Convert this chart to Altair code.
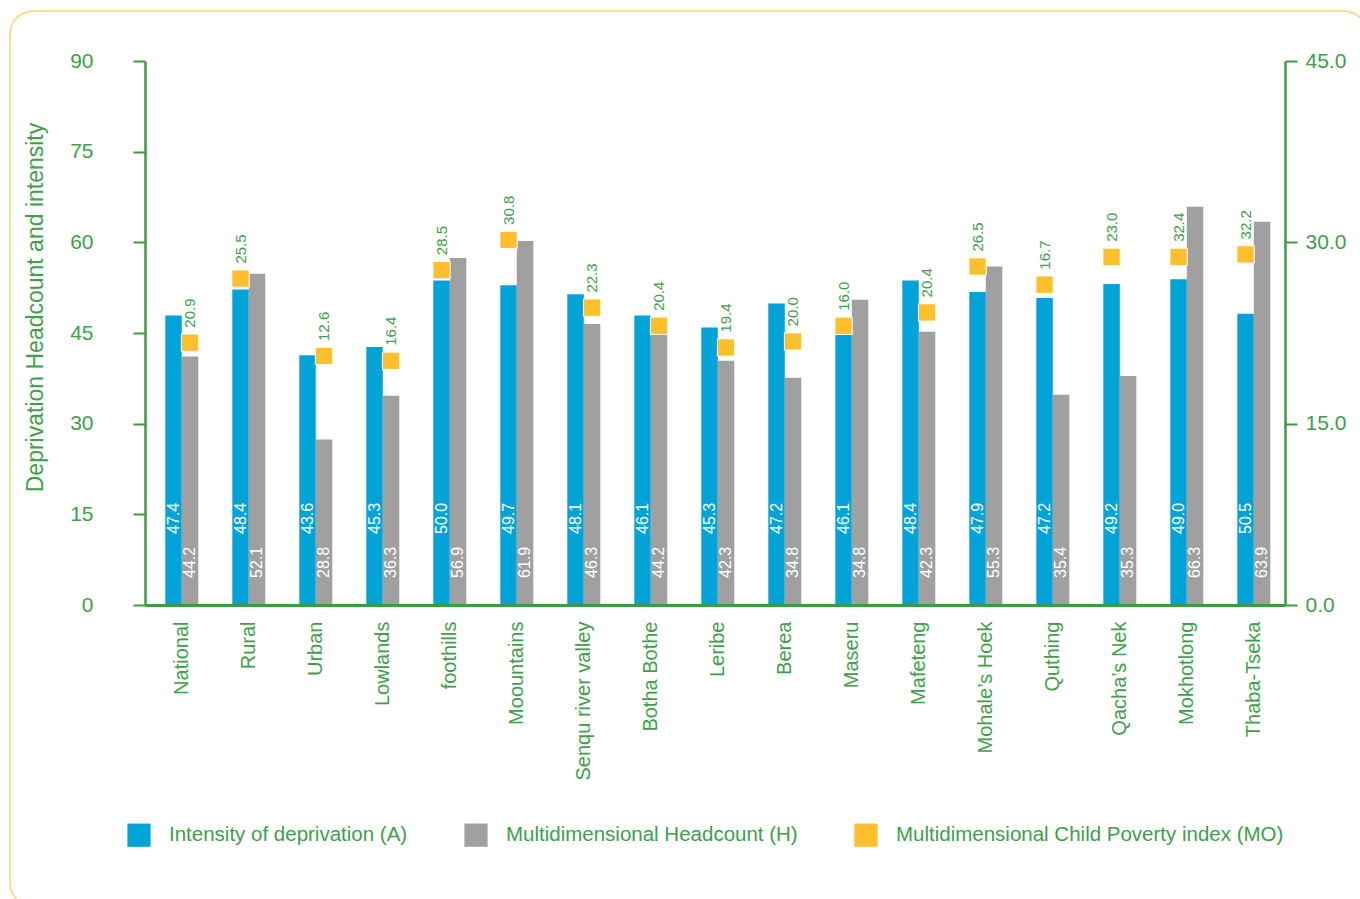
import altair as alt
import pandas as pd

categories = ["National", "Rural", "Urban", "Lowlands", "foothills", "Moountains",
              "Senqu river valley", "Botha Bothe", "Leribe", "Berea", "Maseru",
              "Mafeteng", "Mohale’s Hoek", "Quthing", "Qacha’s Nek", "Mokhotlong",
              "Thaba-Tseka"]

# bar heights as drawn in the picture (left axis)
intensity_bar = [47.9, 52.2, 41.3, 42.7, 53.7, 52.9, 51.4, 47.9, 45.9, 49.9, 44.8,
                 53.7, 51.8, 50.8, 53.1, 53.9, 48.2]
headcount_bar = [41.1, 54.8, 27.4, 34.6, 57.4, 60.2, 46.5, 44.7, 40.4, 37.6, 50.5,
                 45.2, 56.0, 34.8, 37.9, 65.9, 63.4]
# MO marker positions as drawn (right axis)
mo_marker = [21.7, 27.0, 20.6, 20.2, 27.7, 30.2, 24.6, 23.1, 21.3, 21.8, 23.1,
             24.2, 28.0, 26.5, 28.8, 28.8, 29.0]

# printed values
intensity_label = [47.4, 48.4, 43.6, 45.3, 50.0, 49.7, 48.1, 46.1, 45.3, 47.2, 46.1,
                   48.4, 47.9, 47.2, 49.2, 49.0, 50.5]
headcount_label = [44.2, 52.1, 28.8, 36.3, 56.9, 61.9, 46.3, 44.2, 42.3, 34.8, 34.8,
                   42.3, 55.3, 35.4, 35.3, 66.3, 63.9]
mo_label = [20.9, 25.5, 12.6, 16.4, 28.5, 30.8, 22.3, 20.4, 19.4, 20.0, 16.0,
            20.4, 26.5, 16.7, 23.0, 32.4, 32.2]
# which bar slot the MO marker sits above
mo_slot = ["H", "A", "H", "H", "A", "A", "H", "H", "H", "H", "A",
           "H", "A", "A", "A", "A", "A"]

series_names = ["Intensity of deprivation (A)", "Multidimensional Headcount (H)",
                "Multidimensional Child Poverty index (MO)"]
series_colors = ["#02A4D8", "#A0A0A0", "#FDBF2B"]

GREEN = "#3BA247"
AXIS_GREEN = "#3A9B42"

bar_rows = []
for i, c in enumerate(categories):
    bar_rows.append({"cat": c, "slot": "A", "series": series_names[0],
                     "v": intensity_bar[i], "lab": intensity_label[i]})
    bar_rows.append({"cat": c, "slot": "H", "series": series_names[1],
                     "v": headcount_bar[i], "lab": headcount_label[i]})
bars_df = pd.DataFrame(bar_rows)

mo_df = pd.DataFrame({"cat": categories, "slot": mo_slot,
                      "series": [series_names[2]] * len(categories),
                      "v": mo_marker, "lab": mo_label})

x_enc = alt.X("cat:N", sort=categories,
              scale=alt.Scale(paddingInner=0.5075, paddingOuter=0.261, align=0.58),
              axis=alt.Axis(title=None, labelAngle=270, labelAlign="right",
                            labelBaseline="middle", labelFontSize=20,
                            labelColor=GREEN, labelPadding=16, ticks=False,
                            tickSize=0, domainColor=AXIS_GREEN, domainWidth=3,
                            zindex=1))
xo_enc = alt.XOffset("slot:N", scale=alt.Scale(domain=["A", "H"], paddingInner=0,
                                                paddingOuter=0))
color_enc = alt.Color("series:N",
                      scale=alt.Scale(domain=series_names, range=series_colors),
                      legend=alt.Legend(title=None, orient="none", legendX=-18,
                                        legendY=762, direction="horizontal",
                                        columns=3, symbolType="square",
                                        symbolSize=540, symbolStrokeWidth=0,
                                        labelFontSize=20.5, labelColor=GREEN,
                                        labelOffset=18, labelLimit=600,
                                        columnPadding=56, padding=0))

bars = alt.Chart(bars_df).mark_bar(width=alt.RelativeBandSize(1)).encode(
    x=x_enc, xOffset=xo_enc,
    y=alt.Y("v:Q", scale=alt.Scale(domain=[0, 90], nice=False),
            axis=alt.Axis(values=[0, 15, 30, 45, 60, 75, 90],
                          title="Deprivation Headcount and intensity",
                          titleColor=GREEN, titleFontSize=23,
                          titleFontWeight="normal", titleX=-110, titleY=246,
                          titleBaseline="middle", titleAngle=270,
                          labelFontSize=21, labelColor=GREEN, labelPadding=40,
                          tickSize=12, tickWidth=2, tickColor=AXIS_GREEN,
                          domainColor=AXIS_GREEN, domainWidth=2.5, grid=False,
                          zindex=1)),
    color=color_enc,
)

a_text = alt.Chart(bars_df).transform_filter(alt.datum.slot == "A").mark_text(
    angle=270, align="left", baseline="middle", fontSize=16, color="white"
).encode(x=x_enc, xOffset=xo_enc, y=alt.value(544 - 71),
         text=alt.Text("lab:Q", format=".1f"))

h_text = alt.Chart(bars_df).transform_filter(alt.datum.slot == "H").mark_text(
    angle=270, align="left", baseline="middle", fontSize=16, color="white"
).encode(x=x_enc, xOffset=xo_enc, y=alt.value(544 - 27),
         text=alt.Text("lab:Q", format=".1f"))

left_layer = alt.layer(bars, a_text, h_text)

y_right = alt.Y("v:Q", scale=alt.Scale(domain=[0, 45], nice=False),
                axis=alt.Axis(orient="right", values=[0, 15, 30, 45], format=".1f",
                              title=None, labelFontSize=21, labelColor=GREEN,
                              labelPadding=8, tickSize=12, tickWidth=2,
                              tickColor=AXIS_GREEN, domainColor=AXIS_GREEN,
                              domainWidth=2.5, grid=False, zindex=1))

squares = alt.Chart(mo_df).mark_square(size=300, filled=True, opacity=1,
                                       stroke="white", strokeWidth=1).encode(
    x=x_enc, xOffset=xo_enc, y=y_right, color=color_enc)

mo_text = alt.Chart(mo_df).mark_text(angle=270, align="left", baseline="middle",
                                     fontSize=15, color=GREEN, dx=15).encode(
    x=x_enc, xOffset=xo_enc, y=y_right, text=alt.Text("lab:Q", format=".1f"))

right_layer = alt.layer(squares, mo_text)

frame = alt.Chart(alt.Data(values=[{"k": 1}])).mark_rect(
    filled=False, stroke="#FFD36E", strokeWidth=1.5, cornerRadius=23
).encode(x=alt.value(-135), x2=alt.value(1222), y=alt.value(-50), y2=alt.value(845))

chart = alt.layer(frame, left_layer, right_layer).resolve_scale(
    y="independent"
).properties(
    width=1140, height=544,
    padding={"left": 145, "top": 61, "right": 75, "bottom": 294},
    autosize=alt.AutoSizeParams(type="none"),
    background="white",
).configure(font="Liberation Sans").configure_view(stroke=None, strokeWidth=0)

chart.save("out.html", embed_options={"renderer": "svg", "actions": False})
